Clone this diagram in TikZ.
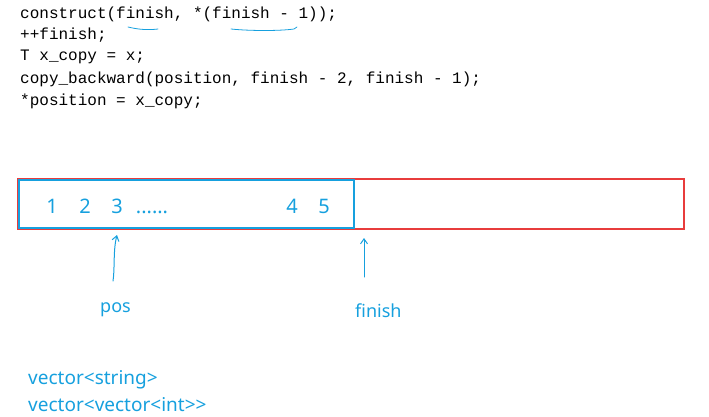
\documentclass[tikz,border=0pt]{standalone}
\usepackage{fontspec}
\setmainfont{Noto Sans}
\setmonofont{Liberation Mono}
\usetikzlibrary{arrows.meta}
\definecolor{inkblue}{RGB}{22,160,222}
\definecolor{boxred}{RGB}{232,60,60}
\tikzset{
  codeline/.style={anchor=west,inner sep=0pt,font=\ttfamily\fontsize{16}{18}\selectfont},
  cell/.style={text=inkblue,inner sep=0pt,anchor=base,font=\fontsize{20}{24}\selectfont},
  note/.style={text=inkblue,anchor=base west,inner sep=0pt,font=\fontsize{19}{22}\selectfont},
  pen/.style={draw=inkblue,line width=1pt,line cap=round}
}
\begin{document}
\begin{tikzpicture}[>={Straight Barb[length=5pt,width=7pt]},x=1pt,y=-1pt]
\useasboundingbox (0,0) rectangle (709,417);
% code lines
\node[codeline] (l1) at (20,14) {construct(finish, *(finish - 1));};
\node[codeline] (l2) at (20,35) {++finish;};
\node[codeline] (l3) at (20,57) {T x\_copy = x;};
\node[codeline] (l4) at (20,79) {copy\_backward(position, finish - 2, finish - 1);};
\node[codeline] (l5) at (20,101) {*position = x\_copy;};
% underlines
\draw[pen,line width=0.8pt] (128,27) .. controls (140,30) and (150,30) .. (158,29);
\draw[pen,line width=0.8pt] (231,29) .. controls (250,31) and (280,31) .. (294,29) -- (297,27);
% storage
\draw[boxred,line width=1.2pt] (18,179) rectangle (684,229);
\draw[inkblue,line width=1.4pt] (19,180) rectangle (354,228);
\node[cell] (c1) at (52,213) {1};
\node[cell] (c2) at (85,213) {2};
\node[cell] (c3) at (117,213) {3};
\node[cell] (dots) at (152,213) {......};
\node[cell] (c4) at (292,213) {4};
\node[cell] (c5) at (324,213) {5};
% pointers
\coordinate (posTail) at (113,281);
\coordinate (posHead) at (117,235);
\coordinate (finTail) at (364,277);
\coordinate (finHead) at (364,238);
\draw[pen,->] (posTail) .. controls (115,268) and (113,250) .. (posHead);
\draw[pen,->] (finTail) -- (finHead);
\node[note,font=\fontsize{18}{21}\selectfont] (pos) at (100,312) {pos};
\node[note,font=\fontsize{18}{21}\selectfont] (fin) at (355,317) {finish};
% notes
\node[note] (s1) at (28,384) {vector<string>};
\node[note] (s2) at (28,411) {vector<vector<int>{}>};
\end{tikzpicture}
\end{document}
